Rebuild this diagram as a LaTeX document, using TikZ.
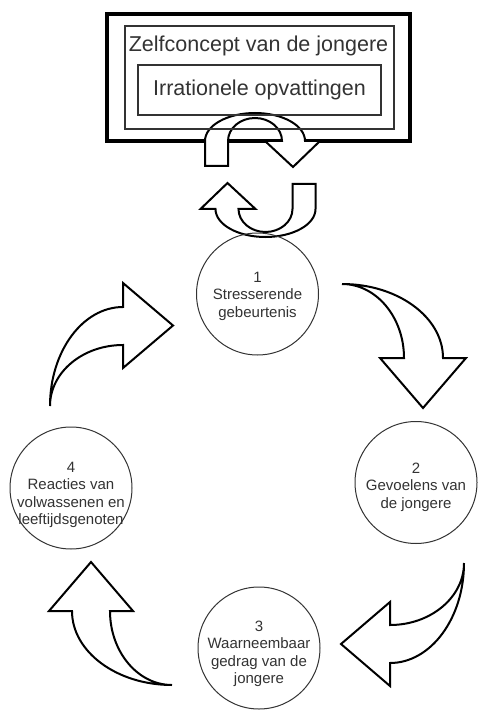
\documentclass[tikz,border=0pt]{standalone}
\usepackage{fontspec}
\setmainfont{Liberation Sans}
\usepackage{xcolor}
\usetikzlibrary{positioning}
\definecolor{txtgray}{HTML}{333333}

\begin{document}
\begin{tikzpicture}[
    x=1pt, y=-1pt,
    outerbox/.style={draw=black, line width=3.5pt, fill=white, minimum width=303pt, minimum height=127pt, inner sep=0pt},
    thinframe/.style={draw=black!80, line width=1.2pt, inner sep=0pt},
    circ/.style={circle, draw=black!80, line width=1pt, minimum size=122pt, inner sep=0pt},
    ctext/.style={align=center, text=txtgray, font=\fontsize{15}{17.5}\selectfont, inner sep=0pt},
    btext/.style={text=txtgray, font=\fontsize{21.5}{26}\selectfont, inner sep=0pt},
    blockarrow/.style={draw=black, line width=2pt, fill=white, line join=miter},
    uturn/.pic={
        \draw[blockarrow] (27,0) .. controls (27,-12.7) and (14.9,-23) .. (0,-23)
            .. controls (-14.9,-23) and (-27,-12.7) .. (-27,0) -- (-27,25) -- (-50,25) -- (-50,0)
            .. controls (-50,-15.5) and (-27.6,-28) .. (0,-28)
            .. controls (27.6,-28) and (50,-15.5) .. (50,0)
            -- (65,0) -- (38,26) -- (10,0) -- cycle;
    },
]
    \path[use as bounding box, fill=white] (0,0) rectangle (477,711);

    % Self concept box
    \node[outerbox] (self) at (258.5,77.5) {};
    \pic at (255,141) {uturn};
    \node[thinframe, minimum width=269pt, minimum height=103pt] (selfin) at (259.5,77.5) {};
    \node[thinframe, minimum width=243pt, minimum height=50pt] (beliefs) at (259.5,90) {};
    \node[btext] (selflabel) at (258.5,46) {Zelfconcept van de jongere};
    \node[btext] (beliefslabel) at (beliefs) {Irrationele opvattingen};

    % Lower u-turn
    \pic[rotate=180] at (265.5,209) {uturn};

    % Circles
    \node[circ] (stress) at (257.5,294) {};
    \node[circ] (feel) at (416,482.5) {};
    \node[circ] (behave) at (259,648) {};
    \node[circ] (react) at (71,488) {};

    \node[ctext] at (257.5,296) {1\\Stresserende\\gebeurtenis};
    \node[ctext] at (416,487) {2\\Gevoelens van\\de jongere};
    \node[ctext] at (259,654) {3\\Waarneembaar\\gedrag van de\\jongere};
    \node[ctext] at (71,495) {4\\Reacties van\\volwassenen en\\leeftijdsgenoten};

    % Curved arrows
    \draw[blockarrow] (123,345) .. controls (82.7,345) and (50,372.3) .. (50,406)
        .. controls (50,351.4) and (82.7,307) .. (123,307)
        -- (123,283) -- (173,325.5) -- (123,368) -- cycle;
    \draw[blockarrow] (404,358) .. controls (404,317.2) and (376.2,284) .. (342,284)
        .. controls (397.8,284) and (443,317.2) .. (443,358)
        -- (466,358) -- (423,408) -- (380,358) -- cycle;
    \draw[blockarrow] (390,625) .. controls (430.8,625) and (464,597.2) .. (464,563)
        .. controls (464,618.2) and (430.8,663) .. (390,663)
        -- (390,686) -- (341,644) -- (390,602) -- cycle;
    \draw[blockarrow] (110,611) .. controls (110,651.8) and (137.8,685) .. (172,685)
        .. controls (116.8,685) and (72,651.8) .. (72,611)
        -- (49,611) -- (91,562) -- (133,611) -- cycle;
\end{tikzpicture}
\end{document}
